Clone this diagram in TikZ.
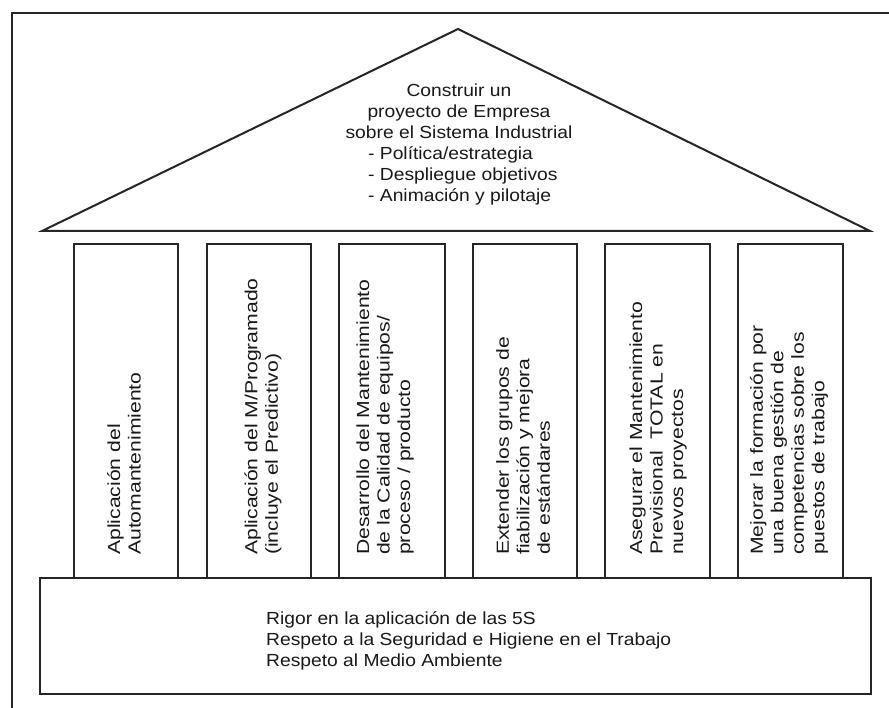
\documentclass[tikz,border=0pt]{standalone}
\usepackage{fontspec}
\setmainfont{Liberation Sans}
\newfontfamily\rooffont{Liberation Sans}[FakeStretch=1.1]
\newfontfamily\pillarfont{Liberation Sans}[FakeStretch=1.21]
\begin{document}
\begin{tikzpicture}[x=1pt,y=-1pt]
\tikzset{
  outline/.style={draw=black!85, line width=2pt},
  rooftext/.style={font=\rooffont\fontsize{17.5}{21}\selectfont, inner sep=0pt, text=black!90},
  pillartext/.style={font=\pillarfont\fontsize{17.5}{20.5}\selectfont, inner sep=0pt,
    text=black!90, rotate=90, anchor=west, align=left},
}
\useasboundingbox (0,0) rectangle (889,708);
\fill[white] (0,0) rectangle (889,708);

% outer frame
\draw[outline] (12,708) -- (12,13) -- (889,13);

% roof (multi-line nodes are placed by the baseline of their last line)
\draw[outline] (458,29) -- (870,231) -- (42,231) -- cycle;
\node[rooftext, align=center, anchor=base] (rooftitle) at (459,139)
  {Construir un\\proyecto de Empresa\\sobre el Sistema Industrial};
\node[rooftext, align=left, anchor=base west] (roofitems) at (368,202)
  {- Política/estrategia\\- Despliegue objetivos\\- Animación y pilotaje};

% pillars
\foreach \l/\r in {74/178, 207/311, 339/445, 473/577, 605/710, 738/843}
  \draw[outline] (\l,578) -- (\l,244) -- (\r,244) -- (\r,578);

\node[pillartext] (p1) at (124,555) {Aplicación del\\Automantenimiento};
\node[pillartext] (p2) at (263,555) {Aplicación del M/Programado\\(incluye el Predictivo)};
\node[pillartext] (p3) at (385,555) {Desarrollo del Mantenimiento\\de la Calidad de equipos/\\proceso / producto};
\node[pillartext] (p4) at (523,555) {Extender los grupos de\\fiabilización y mejora\\de estándares};
\node[pillartext] (p5) at (658,555) {Asegurar el Mantenimiento\\Previsional\ \ TOTAL en\\nuevos proyectos};
\node[pillartext] (p6) at (789,555) {Mejorar la formación por\\una buena gestión de\\competencias sobre los\\puestos de trabajo};

% foundation
\draw[outline] (40,578) rectangle (871,694);
\node[rooftext, align=left, anchor=base west] (basetext) at (266,666)
  {Rigor en la aplicación de las 5S\\Respeto a la Seguridad e Higiene en el Trabajo\\Respeto al Medio Ambiente};
\end{tikzpicture}
\end{document}
